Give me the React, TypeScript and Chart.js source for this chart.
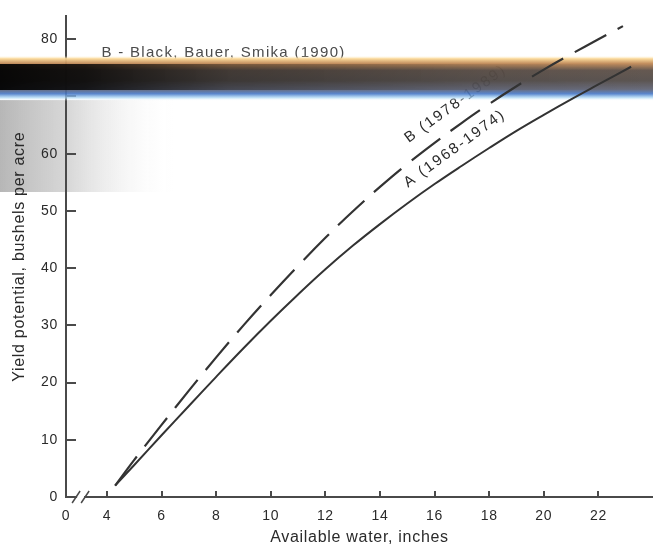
import React, { useEffect, useRef } from "react";
import { Chart, registerables } from "chart.js";

Chart.register(...registerables);

// ---- data ----
const waterA = [4.3, 5, 6, 7, 8, 9, 10, 11, 12, 13, 14, 15, 16, 17, 18, 19, 20, 21, 22, 23.2];
const yieldA = [2, 5.6, 10.8, 15.9, 21, 26, 30.8, 35.4, 39.8, 43.9, 47.7, 51.3, 54.7, 57.9, 61.0, 64.0, 66.8, 69.5, 72.1, 75.2];
const waterB = [4.3, 5, 6, 7, 8, 9, 10, 11, 12, 13, 14, 15, 16, 17, 18, 19, 20, 21, 22, 22.9];
const yieldB = [2, 6.5, 12.6, 18.6, 24.4, 30, 35.3, 40.4, 45.3, 49.9, 54.2, 58.2, 61.9, 65.4, 68.7, 71.8, 74.7, 77.4, 80, 82.3];
const xTickValues = [4, 6, 8, 10, 12, 14, 16, 18, 20, 22];
const yTickValues = [0, 10, 20, 30, 40, 50, 60, 70, 80];
const xOrigin = 2.5; // axis is broken: left end is labelled "0"
const xMax = 24;
const yMax = 84;
const labelA = "A (1968-1974)";
const labelB = "B (1978-1989)";
const labelAPos = [16.74, 60.9];
const labelBPos = [16.77, 68.7];
const sourceNote = "B - Black, Bauer, Smika (1990)";
const sourceNotePos = [3.8, 77.6];

const FONT = "'Liberation Sans', Arial, Helvetica, sans-serif";
const INK = "#2a2a2a";
const AXIS = "#4a4a4a";

function drawRotated(ctx: CanvasRenderingContext2D, text: string, x: number, y: number, deg: number) {
  ctx.save();
  ctx.translate(x, y);
  ctx.rotate((deg * Math.PI) / 180);
  ctx.textAlign = "center";
  ctx.textBaseline = "middle";
  ctx.fillText(text, 0, 0);
  ctx.restore();
}

const decorPlugin = {
  id: "decor",
  beforeDraw(chart: any) {
    const ctx: CanvasRenderingContext2D = chart.ctx;
    (ctx as any).letterSpacing = "0.7px";
    // faint grey scan block at upper left
    ctx.save();
    const g = ctx.createLinearGradient(0, 0, 175, 0);
    g.addColorStop(0, "rgba(170,170,170,0.85)");
    g.addColorStop(0.4, "rgba(200,200,200,0.7)");
    g.addColorStop(0.7, "rgba(230,230,230,0.4)");
    g.addColorStop(1, "rgba(255,255,255,0)");
    ctx.fillStyle = g;
    ctx.fillRect(0, 100, 175, 92);
    ctx.restore();
  },
  beforeDatasetsDraw(chart: any) {
    const ctx: CanvasRenderingContext2D = chart.ctx;
    const xs = chart.scales.x;
    const ys = chart.scales.y;
    const area = chart.chartArea;
    ctx.save();
    // inward tick marks
    ctx.strokeStyle = AXIS;
    ctx.lineWidth = 2;
    ctx.beginPath();
    xTickValues.forEach((v) => {
      const px = Math.round(xs.getPixelForValue(v));
      ctx.moveTo(px, area.bottom);
      ctx.lineTo(px, area.bottom - 6);
    });
    yTickValues.forEach((v) => {
      const py = Math.round(ys.getPixelForValue(v));
      ctx.moveTo(area.left, py);
      ctx.lineTo(area.left + 10, py);
    });
    ctx.stroke();
    // axis break marks
    const b1 = xs.getPixelForValue(2.87);
    const b2 = xs.getPixelForValue(3.2);
    ctx.fillStyle = "#ffffff";
    ctx.fillRect(b1 + 1, area.bottom - 3, b2 - b1 - 2, 6);
    ctx.beginPath();
    [b1, b2].forEach((bx) => {
      ctx.moveTo(bx - 4, area.bottom + 6);
      ctx.lineTo(bx + 4, area.bottom - 6);
    });
    ctx.lineWidth = 1.5;
    ctx.stroke();
    // curve labels
    ctx.fillStyle = INK;
    ctx.font = `15px ${FONT}`;
    (ctx as any).letterSpacing = "2px";
    drawRotated(ctx, labelA, xs.getPixelForValue(labelAPos[0]), ys.getPixelForValue(labelAPos[1]), -36);
    drawRotated(ctx, labelB, xs.getPixelForValue(labelBPos[0]), ys.getPixelForValue(labelBPos[1]), -36);
    // source note
    (ctx as any).letterSpacing = "1.3px";
    ctx.fillStyle = "#4a4a4a";
    ctx.textAlign = "left";
    ctx.textBaseline = "middle";
    ctx.fillText(sourceNote, xs.getPixelForValue(sourceNotePos[0]), ys.getPixelForValue(sourceNotePos[1]));

    // horizontal scanner smear across the top of the figure
    const W = chart.width;
    const top = 56;
    const h = 45;
    const v = ctx.createLinearGradient(0, top, 0, top + h);
    v.addColorStop(0, "rgba(255,240,200,0)");
    v.addColorStop(0.06, "rgba(250,215,150,0.95)");
    v.addColorStop(0.17, "rgba(190,135,85,0.95)");
    v.addColorStop(0.32, "rgba(95,82,74,0.96)");
    v.addColorStop(0.55, "rgba(85,78,75,0.96)");
    v.addColorStop(0.74, "rgba(95,98,115,0.93)");
    v.addColorStop(0.84, "rgba(70,120,200,0.9)");
    v.addColorStop(0.93, "rgba(170,215,245,0.7)");
    v.addColorStop(1, "rgba(255,255,255,0)");
    (ctx as any).letterSpacing = "0px";
    ctx.fillStyle = v;
    ctx.fillRect(0, top, W, h);
    const hg = ctx.createLinearGradient(0, 0, W, 0);
    hg.addColorStop(0, "rgba(0,0,0,0.92)");
    hg.addColorStop(0.13, "rgba(0,0,0,0.8)");
    hg.addColorStop(0.35, "rgba(0,0,0,0.35)");
    hg.addColorStop(0.75, "rgba(0,0,0,0.08)");
    hg.addColorStop(1, "rgba(0,0,0,0.0)");
    ctx.fillStyle = hg;
    ctx.fillRect(0, top + 8, W, 26);
    ctx.restore();
  },
};

export default function App() {
  const ref = useRef<HTMLCanvasElement>(null);

  useEffect(() => {
    document.body.style.margin = "0";
    const canvas = ref.current;
    if (!canvas) return;
    Chart.defaults.font.family = FONT;
    Chart.defaults.color = INK;

    const chart = new Chart(canvas, {
      type: "line",
      data: {
        datasets: [
          {
            label: labelA,
            data: waterA.map((x, i) => ({ x, y: yieldA[i] })),
            borderColor: "#333333",
            borderWidth: 2,
            pointRadius: 0,
            tension: 0.4,
            fill: false,
          },
          {
            label: labelB,
            data: waterB.map((x, i) => ({ x, y: yieldB[i] })),
            borderColor: "#333333",
            borderWidth: 2.2,
            borderDash: [36, 13],
            pointRadius: 0,
            tension: 0.4,
            fill: false,
          },
        ],
      },
      options: {
        animation: false,
        responsive: false,
        events: [],
        layout: { padding: { top: 13, right: 0, bottom: 0, left: 0 } },
        plugins: {
          legend: { display: false },
          title: { display: false },
          tooltip: { enabled: false },
        },
        scales: {
          x: {
            type: "linear",
            min: xOrigin,
            max: xMax,
            afterBuildTicks: (scale: any) => {
              scale.ticks = [{ value: xOrigin }, ...xTickValues.map((v) => ({ value: v }))];
            },
            afterFit: (scale: any) => {
              scale.height = 50;
            },
            grid: { display: false, drawTicks: false },
            border: { display: true, color: AXIS, width: 2 },
            ticks: {
              autoSkip: false,
              maxRotation: 0,
              minRotation: 0,
              padding: 11,
              color: INK,
              font: { size: 14 },
              callback: (value: any) => (value === xOrigin ? "0" : String(value)),
            },
            title: {
              display: true,
              text: "Available water, inches",
              color: INK,
              font: { size: 16 },
              padding: { top: 2, bottom: 0 },
            },
          },
          y: {
            type: "linear",
            min: 0,
            max: yMax,
            afterBuildTicks: (scale: any) => {
              scale.ticks = yTickValues.map((v) => ({ value: v }));
            },
            afterFit: (scale: any) => {
              scale.width = 66;
            },
            grid: { display: false, drawTicks: false },
            border: { display: true, color: AXIS, width: 2 },
            ticks: {
              autoSkip: false,
              padding: 8,
              color: INK,
              font: { size: 14 },
              callback: (value: any) => (value === 70 ? "" : String(value)),
            },
            title: {
              display: true,
              text: "Yield potential, bushels per acre",
              color: INK,
              font: { size: 16 },
              padding: { top: 10, bottom: 0 },
            },
          },
        },
      } as any,
      plugins: [decorPlugin],
    });

    return () => chart.destroy();
  }, []);

  return (
    <div style={{ width: 653, height: 547 }}>
      <canvas ref={ref} width={653} height={547} style={{ display: "block" }} />
    </div>
  );
}
